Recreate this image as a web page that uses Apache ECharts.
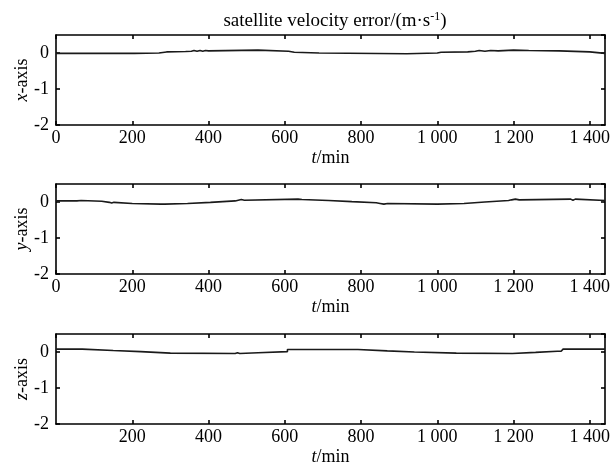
<!DOCTYPE html>
<html>
<head>
<meta charset="utf-8">
<script src="https://cdn.jsdelivr.net/npm/echarts@6/dist/echarts.min.js"></script>
<style>
    html, body { margin: 0; padding: 0; background: #fff; }
    #chart { width: 611px; height: 464px; }
</style>
</head>
<body>
<div id="chart"></div>
<script>
// time (min) and velocity error (m/s) for each component
const xT = [0, 205, 270, 290, 340, 355, 362, 370, 378, 385, 392, 400, 530, 610, 625, 690, 920, 1000, 1010, 1080, 1100, 1110, 1125, 1140, 1160, 1200, 1240, 1320, 1400, 1440];
const xV = [-0.01, 0.0, 0.03, 0.04, 0.05, 0.07, 0.05, 0.07, 0.05, 0.07, 0.06, 0.08, 0.05, 0.02, 0.0, -0.02, 0.0, 0.02, 0.03, 0.05, 0.07, 0.05, 0.07, 0.06, 0.08, 0.07, 0.06, 0.03, -0.01, -0.01];

const yT = [0, 55, 60, 66, 120, 140, 146, 152, 200, 275, 280, 285, 345, 405, 470, 478, 486, 494, 635, 640, 645, 715, 776, 840, 850, 860, 870, 1000, 1070, 1125, 1187, 1195, 1205, 1215, 1350, 1356, 1362, 1440];
const yV = [0.03, 0.01, 0.04, 0.02, -0.01, -0.03, -0.01, -0.04, -0.06, -0.04, -0.06, -0.04, -0.01, 0.03, 0.05, 0.07, 0.05, 0.08, 0.04, 0.07, 0.04, 0.01, -0.02, -0.04, -0.06, -0.04, -0.06, -0.04, 0.0, 0.04, 0.06, 0.08, 0.06, 0.08, 0.05, 0.08, 0.04, 0.04];

const zT = [0, 69, 150, 222, 300, 470, 476, 482, 530, 607, 792, 869, 940, 1050, 1197, 1258, 1315, 1320, 1325, 1330, 1440];
const zV = [0.08, 0.04, 0.01, -0.03, -0.04, -0.02, -0.04, -0.02, 0.01, 0.07, 0.03, 0.0, -0.03, -0.04, -0.01, 0.02, 0.05, 0.02, 0.06, 0.08, 0.08];

const xTicks = [0, 200, 400, 600, 800, 1000, 1200, 1400];
const xTickText = ['0', '200', '400', '600', '800', '1 000', '1 200', '1 400'];
const yTickText = { '-2': '-2', '-1': '-1', '0': '0' };
const panelNames = ['x', 'y', 'z'];

const font = 'Liberation Serif';
const fs = 18;
const tops = [35, 184, 334];
const panelH = 90;

const grids = [], xAxes = [], yAxes = [], series = [];
const sets = [[xT, xV], [yT, yV], [zT, zV]];

tops.forEach((top, i) => {
    grids.push({ left: 56, right: 6, top: top, height: panelH, outerBoundsMode: 'none', containLabel: false });
    const axisLine = { onZero: false, lineStyle: { color: '#000', width: 1.6 } };
    const tick = { inside: true, length: 4, lineStyle: { color: '#000', width: 1.6 } };
    const nameStyle = {
        color: '#000', fontFamily: font, fontSize: fs,
        rich: { i: { fontStyle: 'italic', fontFamily: font, fontSize: fs, color: '#000' } }
    };
    xAxes.push({
        type: 'value', gridIndex: i, position: 'bottom',
        min: 0, max: 1440, interval: 200,
        axisLine: axisLine,
        axisTick: tick,
        splitLine: { show: false },
        axisLabel: {
            color: '#000', fontFamily: font, fontSize: fs, margin: 4,
            showMaxLabel: false, showMinLabel: i !== 2,
            formatter: v => { const k = xTicks.indexOf(v); return k >= 0 ? xTickText[k] : ''; }
        },
        name: '{i|t}/min', nameLocation: 'middle', nameGap: 24,
        nameTextStyle: nameStyle
    });
    xAxes.push({
        type: 'value', gridIndex: i, position: 'top',
        min: 0, max: 1440, interval: 200,
        axisLine: axisLine,
        axisTick: tick,
        splitLine: { show: false },
        axisLabel: { show: false }
    });
    yAxes.push({
        type: 'value', gridIndex: i, position: 'left',
        min: -2, max: 0.5, interval: 1,
        axisLine: axisLine,
        axisTick: tick,
        splitLine: { show: false },
        axisLabel: {
            color: '#000', fontFamily: font, fontSize: fs, margin: 7,
            showMaxLabel: false,
            formatter: v => yTickText[String(v)] || ''
        },
        name: '{i|' + panelNames[i] + '}-axis', nameLocation: 'middle', nameGap: 25,
        nameMoveOverlap: false,
        nameTextStyle: nameStyle
    });
    yAxes.push({
        type: 'value', gridIndex: i, position: 'right',
        min: -2, max: 0.5, interval: 1,
        axisLine: axisLine,
        axisTick: tick,
        splitLine: { show: false },
        axisLabel: { show: false }
    });
    const [t, v] = sets[i];
    series.push({
        type: 'line', xAxisIndex: i * 2, yAxisIndex: i * 2,
        data: t.map((tt, k) => [tt, v[k]]),
        step: 'end', showSymbol: false, symbol: 'none',
        lineStyle: { color: '#1a1a1a', width: 1.6 },
        animation: false
    });
});

const chart = echarts.init(document.getElementById('chart'));
chart.setOption({
    backgroundColor: '#fff',
    animation: false,
    title: {
        text: 'satellite velocity error/(m·s{sup|-1})',
        left: 330, top: 6, textAlign: 'center',
        textStyle: {
            color: '#000', fontFamily: font, fontSize: 19, fontWeight: 'normal',
            rich: { sup: { fontFamily: font, fontSize: 12, color: '#000', verticalAlign: 'top', padding: [0, 0, 9, 0] } }
        }
    },
    grid: grids,
    xAxis: xAxes,
    yAxis: yAxes,
    series: series
});
</script>
</body>
</html>
